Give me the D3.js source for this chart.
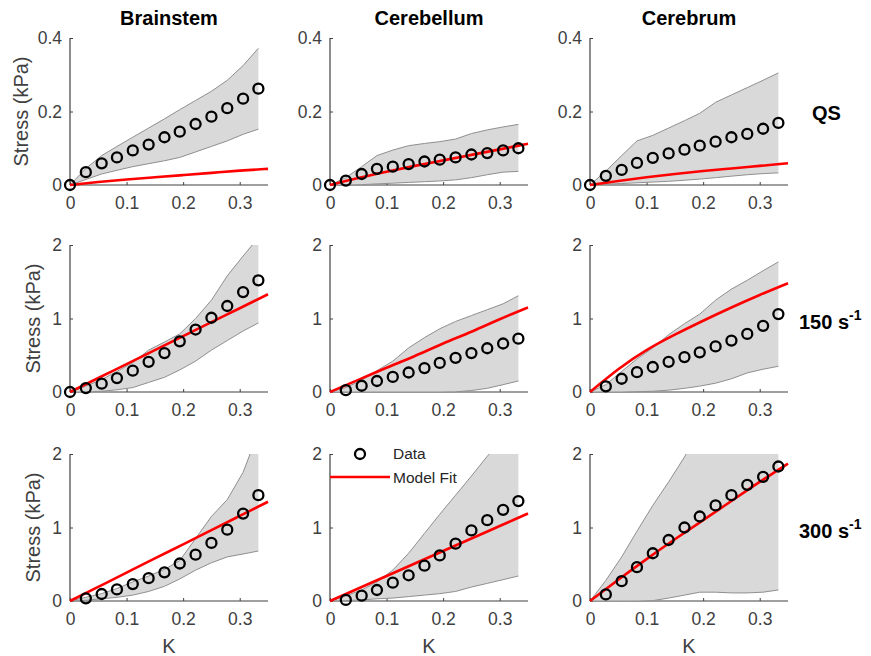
<!DOCTYPE html>
<html>
<head>
<meta charset="utf-8">
<script src="https://cdn.jsdelivr.net/npm/d3@7/dist/d3.min.js"></script>
<style>
body{margin:0;background:#fff;}
text{font-family:"Liberation Sans",Arial,Helvetica,sans-serif;}
</style>
</head>
<body>
<svg id="chart" width="871" height="656"></svg>
<script>
// columns / rows
var regions = ['Brainstem', 'Cerebellum', 'Cerebrum'];
var rates = ['QS', '150', '300'];
var yMaxes = [0.4, 2, 2];
var yTickValues = [[0, 0.2, 0.4], [0, 1, 2], [0, 1, 2]];
var xTickValues = [0, 0.1, 0.2, 0.3];

// strain points of the measurements and of the model curve
var strain = [0, 0.028, 0.056, 0.083, 0.111, 0.139, 0.167, 0.194, 0.222, 0.25, 0.278, 0.306, 0.333];
var modelStrain = [0, 0.05, 0.1, 0.15, 0.2, 0.25, 0.3, 0.35];

// QS : [brainstem, cerebellum, cerebrum]
var meanQS = [
	[0, 0.035, 0.059, 0.075, 0.094, 0.11, 0.13, 0.145, 0.166, 0.186, 0.209, 0.235, 0.262],
	[0, 0.012, 0.03, 0.044, 0.05, 0.057, 0.064, 0.069, 0.075, 0.083, 0.087, 0.094, 0.1],
	[0, 0.025, 0.041, 0.06, 0.074, 0.086, 0.096, 0.107, 0.118, 0.13, 0.139, 0.153, 0.169]
];
var upperQS = [
	[0, 0.045, 0.08, 0.105, 0.13, 0.155, 0.18, 0.205, 0.23, 0.255, 0.285, 0.325, 0.372],
	[0, 0.02, 0.05, 0.08, 0.095, 0.107, 0.113, 0.118, 0.125, 0.14, 0.15, 0.158, 0.165],
	[0, 0.038, 0.08, 0.12, 0.135, 0.155, 0.175, 0.195, 0.225, 0.245, 0.265, 0.285, 0.305]
];
var lowerQS = [
	[0, 0.015, 0.03, 0.04, 0.05, 0.058, 0.066, 0.075, 0.09, 0.105, 0.12, 0.138, 0.152],
	[0, 0, 0.001, 0.003, 0.005, 0.007, 0.009, 0.011, 0.014, 0.02, 0.028, 0.035, 0.037],
	[0, 0.002, 0.004, 0.006, 0.008, 0.01, 0.013, 0.016, 0.02, 0.024, 0.028, 0.031, 0.033]
];
var fitQS = [
	[0, 0.008, 0.015, 0.021, 0.027, 0.033, 0.039, 0.044],
	[0, 0.019, 0.036, 0.052, 0.067, 0.082, 0.097, 0.112],
	[0, 0.011, 0.021, 0.03, 0.038, 0.045, 0.052, 0.059]
];

// 150 1/s
var mean150 = [
	[0, 0.054, 0.113, 0.19, 0.29, 0.41, 0.53, 0.69, 0.85, 1.01, 1.17, 1.36, 1.52],
	[null, 0.025, 0.085, 0.15, 0.205, 0.265, 0.325, 0.395, 0.465, 0.53, 0.595, 0.66, 0.725],
	[null, 0.077, 0.18, 0.27, 0.34, 0.41, 0.475, 0.54, 0.62, 0.7, 0.79, 0.9, 1.06]
];
var upper150 = [
	[0, 0.08, 0.17, 0.28, 0.4, 0.57, 0.68, 0.79, 1.0, 1.25, 1.58, 1.85, 2.1],
	[0, 0.06, 0.16, 0.29, 0.42, 0.6, 0.74, 0.86, 0.96, 1.04, 1.12, 1.2, 1.31],
	[0, 0.1, 0.28, 0.45, 0.6, 0.78, 0.93, 1.06, 1.25, 1.4, 1.52, 1.65, 1.77]
];
var lower150 = [
	[0, 0, 0.01, 0.03, 0.06, 0.13, 0.2, 0.3, 0.42, 0.57, 0.7, 0.83, 0.94],
	[0, 0, 0, 0, 0, 0, 0, 0, 0.002, 0.02, 0.05, 0.1, 0.15],
	[0, 0, 0, 0.005, 0.01, 0.025, 0.05, 0.08, 0.12, 0.18, 0.26, 0.31, 0.35]
];
var fit150 = [
	[0, 0.19, 0.38, 0.57, 0.76, 0.95, 1.14, 1.33],
	[0, 0.165, 0.33, 0.49, 0.66, 0.82, 0.99, 1.15],
	[0, 0.31, 0.57, 0.78, 0.97, 1.15, 1.32, 1.48]
];

// 300 1/s
var mean300 = [
	[null, 0.036, 0.095, 0.158, 0.23, 0.31, 0.39, 0.51, 0.63, 0.79, 0.97, 1.19, 1.44],
	[null, 0.014, 0.072, 0.15, 0.25, 0.35, 0.48, 0.62, 0.78, 0.96, 1.1, 1.24, 1.36],
	[null, 0.09, 0.27, 0.46, 0.65, 0.83, 1.0, 1.15, 1.3, 1.44, 1.58, 1.69, 1.83]
];
var upper300 = [
	[0, 0.05, 0.1, 0.17, 0.26, 0.34, 0.43, 0.55, 0.85, 1.15, 1.38, 1.75, 2.3],
	[0, 0.07, 0.15, 0.26, 0.42, 0.65, 0.92, 1.18, 1.44, 1.7, 1.97, 2.2, 2.45],
	[0, 0.28, 0.6, 0.95, 1.3, 1.62, 1.96, 2.3, 2.6, 2.9, 3.2, 3.5, 3.8]
];
var lower300 = [
	[0, 0.01, 0.03, 0.05, 0.08, 0.13, 0.2, 0.3, 0.42, 0.52, 0.6, 0.64, 0.68],
	[0, 0.005, 0.015, 0.03, 0.04, 0.06, 0.08, 0.1, 0.13, 0.19, 0.24, 0.29, 0.34],
	[0, 0, 0, 0, 0.005, 0.04, 0.08, 0.12, 0.12, 0.11, 0.11, 0.12, 0.15]
];
var fit300 = [
	[0, 0.193, 0.386, 0.579, 0.771, 0.964, 1.157, 1.35],
	[0, 0.17, 0.34, 0.51, 0.68, 0.85, 1.02, 1.19],
	[0, 0.29, 0.57, 0.84, 1.1, 1.36, 1.62, 1.87]
];

var meanRows = [meanQS, mean150, mean300];
var upperRows = [upperQS, upper150, upper300];
var lowerRows = [lowerQS, lower150, lower300];
var fitRows = [fitQS, fit150, fit300];

var axisColor = '#404040';
var colLeft = [70, 330, 590];
var rowTop = [38, 245, 454];
var plotW = 198, plotH = 147;

var svg = d3.select('#chart');

for(var r = 0; r < rates.length; r++){
	for(var c = 0; c < regions.length; c++){
		drawPanel(r, c);
	}
}

function drawPanel(r, c){
	var g = svg.append('g')
		.attr('transform', 'translate(' + colLeft[c] + ',' + rowTop[r] + ')');
	var x = d3.scaleLinear().domain([0, 0.35]).range([0, plotW]);
	var y = d3.scaleLinear().domain([0, yMaxes[r]]).range([plotH, 0]);
	var clipId = 'clip-' + r + '-' + c;
	g.append('clipPath').attr('id', clipId)
		.append('rect')
		.attr('x', -5).attr('y', 0)
		.attr('width', plotW + 10).attr('height', plotH + 5);

	var mean = meanRows[r][c], upper = upperRows[r][c], lower = lowerRows[r][c], fit = fitRows[r][c];
	var pts = strain.map(function(k, i){
		return {k: k, m: mean[i], u: upper[i], l: lower[i]};
	});

	// axes (box off, ticks inside)
	var xAxis = d3.axisBottom(x).tickValues(xTickValues).tickSize(-3).tickPadding(12)
		.tickFormat(function(d){ return d === 0 ? '0' : d3.format('.1f')(d); });
	var yAxis = d3.axisLeft(y).tickValues(yTickValues[r]).tickSize(-3).tickPadding(8)
		.tickFormat(function(d){ return r === 0 && d !== 0 ? d3.format('.1f')(d) : String(d); });
	var gx = g.append('g').attr('transform', 'translate(0,' + plotH + ')').call(xAxis);
	var gy = g.append('g').call(yAxis);
	[gx, gy].forEach(function(a){
		a.select('.domain').attr('stroke', axisColor).attr('stroke-width', 1.2);
		a.selectAll('.tick line').attr('stroke', axisColor).attr('stroke-width', 1);
		a.selectAll('.tick text').attr('fill', axisColor).style('font-size', '17.5px');
	});
	gx.select('.domain').attr('d', 'M0,0H' + plotW);
	gy.select('.domain').attr('d', 'M0,' + plotH + 'V0');

	var body = g.append('g').attr('clip-path', 'url(#' + clipId + ')');
	body.append('path')
		.datum(pts)
		.attr('fill', '#d9d9d9')
		.attr('stroke', 'none')
		.attr('d', d3.area().x(function(d){ return x(d.k); })
			.y0(function(d){ return y(d.l); })
			.y1(function(d){ return y(d.u); }));
	['u', 'l'].forEach(function(key){
		body.append('path')
			.datum(pts)
			.attr('fill', 'none')
			.attr('stroke', '#8f8f8f')
			.attr('stroke-width', 1)
			.attr('d', d3.line().x(function(d){ return x(d.k); }).y(function(d){ return y(d[key]); }));
	});

	g.selectAll('.data-pt')
		.data(pts.filter(function(d){ return d.m !== null; }))
		.enter().append('circle')
		.attr('class', 'data-pt')
		.attr('cx', function(d){ return x(d.k); })
		.attr('cy', function(d){ return y(d.m); })
		.attr('r', 5)
		.attr('fill', 'none')
		.attr('stroke', '#000')
		.attr('stroke-width', 2.3);

	body.append('path')
		.datum(modelStrain.map(function(k, i){ return [k, fit[i]]; }))
		.attr('fill', 'none')
		.attr('stroke', '#ff0000')
		.attr('stroke-width', 2.6)
		.attr('d', d3.line().curve(d3.curveNatural)
			.x(function(d){ return x(d[0]); }).y(function(d){ return y(d[1]); }));

	// column titles
	if(r === 0){
		g.append('text')
			.attr('x', plotW / 2).attr('y', -13)
			.attr('text-anchor', 'middle')
			.style('font-size', '20px').style('font-weight', 'bold')
			.text(regions[c]);
	}
	// y label
	if(c === 0){
		g.append('text')
			.attr('transform', 'translate(' + (r === 0 ? -42 : -30) + ',' + (plotH / 2) + ') rotate(-90)')
			.attr('text-anchor', 'middle')
			.attr('fill', axisColor)
			.style('font-size', '20px')
			.text('Stress (kPa)');
	}
	// x label
	if(r === 2){
		g.append('text')
			.attr('x', plotW / 2).attr('y', plotH + 52)
			.attr('text-anchor', 'middle')
			.attr('fill', axisColor)
			.style('font-size', '20px')
			.text('K');
	}
	// rate labels
	if(c === 2){
		var lab = g.append('text')
			.attr('x', plotW + (r === 0 ? 24 : 11))
			.attr('y', r === 0 ? y(0.2) + 8 : y(1) + 10)
			.style('font-size', '20px').style('font-weight', 'bold');
		if(r === 0){
			lab.text(rates[r]);
		}else{
			lab.append('tspan').text(rates[r] + ' s');
			lab.append('tspan').attr('dy', -9).style('font-size', '14px').text('-1');
		}
	}
	// legend
	if(r === 2 && c === 1){
		var lg = g.append('g');
		lg.append('circle').attr('cx', 30).attr('cy', 0).attr('r', 5)
			.attr('fill', 'none').attr('stroke', '#000').attr('stroke-width', 2.3);
		lg.append('line').attr('x1', 0).attr('x2', 60).attr('y1', 23).attr('y2', 23)
			.attr('stroke', '#ff0000').attr('stroke-width', 2.6);
		lg.append('text').attr('x', 63).attr('y', 5).attr('fill', '#262626')
			.style('font-size', '15.5px').text('Data');
		lg.append('text').attr('x', 63).attr('y', 29).attr('fill', '#262626')
			.style('font-size', '15.5px').text('Model Fit');
	}
}
</script>
</body>
</html>
